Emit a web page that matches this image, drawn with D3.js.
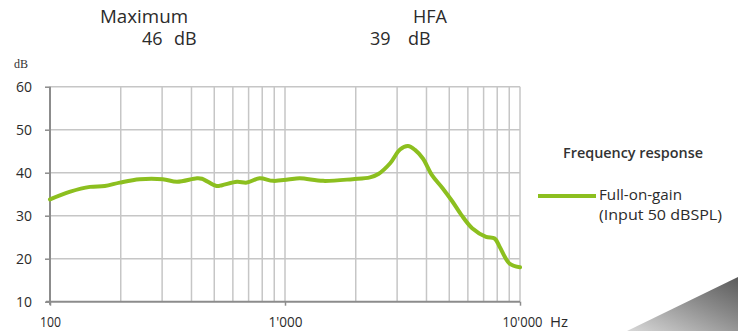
<!DOCTYPE html>
<html>
<head>
<meta charset="utf-8">
<script src="https://cdn.jsdelivr.net/npm/d3@7"></script>
<style>
  html, body { margin: 0; padding: 0; background: #fff; }
  svg { display: block; }
</style>
</head>
<body>
<svg id="chart" width="738" height="331"></svg>
<script>
// Frequency response curve: frequency (Hz) and gain (dB)
const freqs = [100, 122, 148, 171, 198, 241, 302, 347, 422, 443, 511, 540, 625, 688, 780, 890, 1030,
               1155, 1453, 1939, 2299, 2496, 2802, 3086, 3337, 3574, 3862, 4213, 4684, 5157, 5627,
               6258, 7168, 7800, 8190, 9015, 10000];
const gains = [33.8, 35.6, 36.7, 36.9, 37.7, 38.5, 38.5, 37.9, 38.7, 38.6, 36.9, 37.1, 37.9, 37.7, 38.7, 38.1, 38.4,
               38.7, 38.1, 38.5, 38.9, 39.7, 42.2, 45.4, 46.2, 45.3, 43.3, 39.5, 36.4, 33.3, 30.2,
               27.1, 25.1, 24.7, 22.8, 18.9, 18.0];

const yTicks = [10, 20, 30, 40, 50, 60];
const xLabelTicks = [100, 1000, 10000];
const xLabelText = ["100", "1'000", "10'000"];

const summaryLabels = ["Maximum", "HFA"];
const summaryValues = ["46", "39"];
const summaryUnit = "dB";
const legendTitle = "Frequency response";
const seriesName = ["Full-on-gain", "(Input 50 dBSPL)"];

const svg = d3.select("#chart");
const plot = { left: 50, right: 520, top: 86.7, bottom: 301.7 };

const x = d3.scaleLog().domain([100, 10000]).range([plot.left, plot.right]);
const y = d3.scaleLinear().domain([10, 60]).range([plot.bottom, plot.top]);

const sans = "'Open Sans', 'DejaVu Sans', sans-serif";
const serif = "'Liberation Serif', 'DejaVu Serif', serif";
const textColor = "#2b2b2b";

// Condensed text: fit a string into a given width
function fitText(sel, width) {
  return sel.attr("textLength", width).attr("lengthAdjust", "spacingAndGlyphs");
}

// Page-corner shadow at the lower right
const defs = svg.append("defs");
const grad = defs.append("linearGradient").attr("id", "corner")
  .attr("x1", "0%").attr("y1", "100%").attr("x2", "100%").attr("y2", "0%");
grad.append("stop").attr("offset", "0%").attr("stop-color", "#d8d8d8");
grad.append("stop").attr("offset", "60%").attr("stop-color", "#8a8a8a");
grad.append("stop").attr("offset", "100%").attr("stop-color", "#5a5a5a");
svg.append("path")
  .attr("d", "M627,331 L738,277 L738,331 Z")
  .attr("fill", "url(#corner)");

// Grid: horizontal at each 10 dB, vertical at each log minor step
const gridFreqs = [];
for (const dec of [100, 1000]) for (let k = 2; k <= 9; k++) gridFreqs.push(dec * k);
gridFreqs.push(1000, 10000);

const grid = svg.append("g").attr("stroke", "#c6c6c6").attr("stroke-width", 1.5);
grid.selectAll("line.v").data(gridFreqs).join("line")
  .attr("x1", d => x(d)).attr("x2", d => x(d))
  .attr("y1", plot.top).attr("y2", plot.bottom);
grid.selectAll("line.h").data(yTicks.filter(d => d > 10)).join("line")
  .attr("x1", plot.left).attr("x2", plot.right)
  .attr("y1", d => y(d)).attr("y2", d => y(d));

// Y axis
const yAxis = svg.append("g").attr("transform", `translate(${plot.left},0)`)
  .call(d3.axisLeft(y).tickValues(yTicks).tickSize(5).tickPadding(13));
yAxis.select(".domain").attr("stroke", "#8c8c8c").attr("stroke-width", 2)
  .attr("d", `M0,${plot.top}V${plot.bottom + 3}`);
yAxis.selectAll(".tick line").attr("stroke", "#8c8c8c").attr("stroke-width", 1.5);
yAxis.selectAll(".tick text").attr("font-family", sans).attr("font-size", 15)
  .attr("fill", textColor).attr("dy", "0.33em")
  .each(function () { fitText(d3.select(this), 16); });

// X axis
const xAxis = svg.append("g").attr("transform", `translate(0,${plot.bottom})`)
  .call(d3.axisBottom(x).tickValues(xLabelTicks).tickSize(4).tickPadding(11)
    .tickFormat((d, i) => xLabelText[i]));
xAxis.select(".domain").attr("stroke", "#8c8c8c").attr("stroke-width", 2)
  .attr("d", `M${plot.left - 4},0H${plot.right}`);
xAxis.selectAll(".tick line").attr("stroke", "#8c8c8c").attr("stroke-width", 1.5);
const xLabelWidths = [21, 34, 40];
xAxis.selectAll(".tick text").attr("font-family", sans).attr("font-size", 15)
  .attr("fill", textColor)
  .each(function (d, i) { fitText(d3.select(this), xLabelWidths[i]); });
xAxis.selectAll(".tick").filter(d => d === 10000).select("text").attr("dx", 2);
fitText(svg.append("text").attr("x", 550).attr("y", 327)
  .attr("font-family", sans).attr("font-size", 15).attr("fill", textColor).text("Hz"), 18);

// Unit label
svg.append("text").attr("x", 14).attr("y", 68)
  .attr("font-family", serif).attr("font-size", 12).attr("fill", "#333").text("dB");

// Response curve
const line = d3.line()
  .x((d, i) => x(freqs[i]))
  .y(d => y(d))
  .curve(d3.curveCatmullRom.alpha(0.5));
svg.append("path").datum(gains)
  .attr("d", line)
  .attr("fill", "none")
  .attr("stroke", "#8cbf1f")
  .attr("stroke-width", 4)
  .attr("stroke-linejoin", "round")
  .attr("stroke-linecap", "round");

// Summary values above the chart
const summaryPos = [
  { lx: 100, lw: 88, vx: 142, ux: 174 },
  { lx: 413, lw: 34, vx: 370, ux: 408 }
];
summaryLabels.forEach((t, i) => {
  const p = summaryPos[i];
  fitText(svg.append("text").attr("x", p.lx).attr("y", 23)
    .attr("font-family", sans).attr("font-size", 18).attr("fill", textColor).text(t), p.lw);
  svg.append("text").attr("x", p.vx).attr("y", 45)
    .attr("font-family", sans).attr("font-size", 18).attr("fill", textColor)
    .text(summaryValues[i]);
  svg.append("text").attr("x", p.ux).attr("y", 45)
    .attr("font-family", sans).attr("font-size", 18).attr("fill", textColor)
    .text(summaryUnit);
});

// Legend
fitText(svg.append("text").attr("x", 563).attr("y", 158)
  .attr("font-family", sans).attr("font-size", 15).attr("font-weight", 600)
  .attr("fill", "#333").text(legendTitle), 140);
svg.append("line").attr("x1", 538).attr("x2", 596).attr("y1", 196).attr("y2", 196)
  .attr("stroke", "#8cbf1f").attr("stroke-width", 4);
const legendWidths = [83, 123];
seriesName.forEach((t, i) => {
  fitText(svg.append("text").attr("x", 599).attr("y", 200 + i * 20)
    .attr("font-family", sans).attr("font-size", 14).attr("fill", textColor).text(t), legendWidths[i]);
});
</script>
</body>
</html>
